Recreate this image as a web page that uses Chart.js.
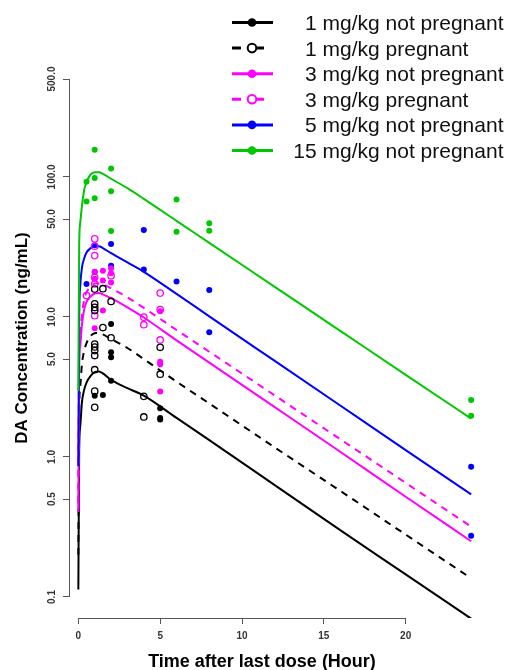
<!DOCTYPE html>
<html><head><meta charset="utf-8">
<script src="https://cdn.jsdelivr.net/npm/chart.js@4.4.1/dist/chart.umd.min.js"></script>
<style>html,body{margin:0;padding:0;background:#fff;overflow:hidden}#wrap{width:507px;height:670px;position:relative}</style>
</head><body><div id="wrap"><canvas id="c" width="507" height="670"></canvas></div>
<script>
// ---------- data ----------
const groupLabels = ['1 mg/kg not pregnant', '1 mg/kg pregnant', '3 mg/kg not pregnant', '3 mg/kg pregnant', '5 mg/kg not pregnant', '15 mg/kg not pregnant'];

// model fit curves (time in hours, concentration ng/mL)
const curveTime    = [0, 0.05, 0.12, 0.22, 0.35, 0.5, 0.75, 1, 1.25, 1.5, 2, 3, 4, 6, 8, 12, 16, 20, 24];
const fit1NotPreg  = [0.113, 1.1, 1.67, 2.46, 3.0, 3.4, 3.8, 4.03, 4.07, 3.95, 3.55, 3.1, 2.74, 1.9, 1.32, 0.63, 0.30, 0.145, 0.07];
const fit1Preg     = [0.2, 2.1, 3.2, 4.6, 5.7, 6.5, 7.3, 7.65, 7.7, 7.5, 6.95, 6.0, 5.0, 3.45, 2.41, 1.17, 0.573, 0.279, 0.136];
const fit3NotPreg  = [0.405, 4.4, 6.3, 8.8, 11.2, 12.8, 14.0, 14.7, 14.8, 14.5, 13.6, 11.7, 9.9, 6.8, 4.72, 2.27, 1.09, 0.52, 0.25];
const fit3Preg     = [0.47, 5.2, 7.4, 10.3, 13.2, 15.0, 16.5, 17.3, 17.4, 17.1, 16.0, 13.8, 11.6, 8.07, 5.64, 2.75, 1.34, 0.653, 0.318];
const fit5NotPreg  = [0.86, 9.6, 17, 22.5, 26, 28.8, 31.0, 32.0, 32.0, 31.0, 28.5, 24.5, 21.0, 14.6, 10.1, 4.85, 2.33, 1.12, 0.54];
const fit15NotPreg = [2.96, 32, 47.5, 62, 80, 92, 104, 108, 108, 105, 97, 83, 69.7, 48.5, 33.8, 16.4, 7.96, 3.86, 1.88];

// observed concentrations
const obs1NotPregTime  = [1, 1.5, 2, 2, 2, 2, 5, 5, 5];
const obs1NotPregConc  = [2.74, 2.77, 8.9, 5.6, 5.15, 3.5, 2.23, 1.9, 1.85];
const obs1PregTime     = [1, 1, 1, 1, 1, 1, 1, 1, 1, 1, 1, 1.5, 1.5, 2, 2, 4, 4, 5, 5];
const obs1PregConc     = [15.8, 12.4, 11.7, 11.1, 6.4, 6.1, 5.75, 5.3, 4.2, 2.95, 2.26, 15.9, 8.4, 12.9, 7.1, 2.71, 1.93, 6.07, 3.9];
const obs3NotPregTime  = [1, 1, 1, 1.5, 1.5, 1.5, 2, 2, 2, 5, 5, 5, 5];
const obs3NotPregConc  = [21.0, 18.7, 8.3, 21.4, 18.2, 11.1, 22.3, 20.5, 17.6, 11.0, 4.79, 4.6, 2.93];
const obs3PregTime     = [0.5, 1, 1, 1, 1, 1, 1, 2, 4, 4, 5, 5, 5];
const obs3PregConc     = [14.2, 36.1, 32.0, 27.4, 19.2, 17.2, 10.2, 19.7, 9.96, 8.8, 14.8, 11.3, 6.85];
const obs5NotPregTime  = [0.5, 1, 1, 2, 2, 4, 4, 6, 8, 8, 24, 24];
const obs5NotPregConc  = [17.2, 32.5, 20.9, 33.2, 23.2, 41.8, 21.8, 17.9, 15.6, 7.78, 0.85, 0.274];
const obs15NotPregTime = [0.5, 0.5, 1, 1, 1, 2, 2, 2, 6, 6, 8, 8, 24, 24];
const obs15NotPregConc = [92.5, 66.6, 156, 98, 70.5, 114.6, 79, 41, 69, 40.6, 46.7, 41.3, 2.55, 1.97];

// axis ticks
const xTickValues = [0, 5, 10, 15, 20];
const yTickValues = [0.1, 0.5, 1, 5, 10, 50, 100, 500];
const yTickLabels = ['0.1', '0.5', '1.0', '5.0', '10.0', '50.0', '100.0', '500.0'];
const xTitle = 'Time after last dose (Hour)';
const yTitle = 'DA Concentration (ng/mL)';

// ---------- styles ----------
const groupColors = ['#000000', '#000000', '#FF00FF', '#FF00FF', '#0000FF', '#00C800'];
const groupOpen   = [false, true, false, true, false, false];
const fits = [fit1NotPreg, fit1Preg, fit3NotPreg, fit3Preg, fit5NotPreg, fit15NotPreg];
const obsT = [obs1NotPregTime, obs1PregTime, obs3NotPregTime, obs3PregTime, obs5NotPregTime, obs15NotPregTime];
const obsC = [obs1NotPregConc, obs1PregConc, obs3NotPregConc, obs3PregConc, obs5NotPregConc, obs15NotPregConc];
const DASH = [7, 6];

const datasets = [];
groupLabels.forEach((lab, i) => {
  datasets.push({
    label: lab + ' (observed)',
    data: obsT[i].map((t, k) => ({x: t, y: obsC[i][k]})),
    showLine: false,
    pointStyle: 'circle',
    pointRadius: groupOpen[i] ? 3.2 : 3,
    pointBorderWidth: groupOpen[i] ? 1.3 : 0,
    pointBackgroundColor: groupOpen[i] ? 'rgba(0,0,0,0)' : groupColors[i],
    pointBorderColor: groupColors[i],
    order: 0
  });
});
groupLabels.forEach((lab, i) => {
  datasets.push({
    label: lab,
    data: curveTime.map((t, k) => ({x: t, y: fits[i][k]})),
    showLine: true,
    borderColor: groupColors[i],
    borderWidth: 2,
    borderDash: groupOpen[i] ? DASH : [],
    pointRadius: 0,
    cubicInterpolationMode: 'monotone',
    fill: false,
    order: 10 - i
  });
});

const FONT = '"Liberation Sans", Arial, sans-serif';

const decor = {
  id: 'decor',
  afterDraw(chart) {
    const ctx = chart.ctx, xs = chart.scales.x, ys = chart.scales.y, ca = chart.chartArea;
    ctx.save();
    // R-style axis lines spanning first to last tick
    ctx.strokeStyle = '#555'; ctx.lineWidth = 1;
    ctx.beginPath();
    const yb = Math.round(ca.bottom) + 0.5;
    ctx.moveTo(xs.getPixelForValue(xTickValues[0]), yb);
    ctx.lineTo(xs.getPixelForValue(xTickValues[xTickValues.length - 1]), yb);
    const xl = Math.round(ca.left) - 0.5;
    ctx.moveTo(xl, ys.getPixelForValue(yTickValues[0]));
    ctx.lineTo(xl, ys.getPixelForValue(yTickValues[yTickValues.length - 1]));
    ctx.stroke();

    // rotated y tick labels
    ctx.fillStyle = '#333';
    ctx.font = 'bold 10px ' + FONT;
    ctx.textAlign = 'center'; ctx.textBaseline = 'middle';
    ys.ticks.forEach(t => {
      const idx = yTickValues.indexOf(t.value);
      if (idx < 0) return;
      const y = ys.getPixelForValue(t.value);
      ctx.save(); ctx.translate(52, y); ctx.rotate(-Math.PI / 2);
      ctx.fillText(yTickLabels[idx], 0, 0);
      ctx.restore();
    });

    // axis titles
    ctx.fillStyle = '#000';
    ctx.font = 'bold 18px ' + FONT;
    ctx.textAlign = 'center'; ctx.textBaseline = 'alphabetic';
    ctx.fillText(xTitle, 262, 667);
    ctx.save(); ctx.translate(27, (ca.top + ca.bottom) / 2); ctx.rotate(-Math.PI / 2);
    ctx.font = 'bold 17px ' + FONT;
    ctx.fillText(yTitle, 0, 0);
    ctx.restore();

    // legend
    ctx.font = '21px ' + FONT;
    ctx.textAlign = 'left'; ctx.textBaseline = 'alphabetic';
    const oneW = ctx.measureText('1').width;
    groupLabels.forEach((lab, i) => {
      const y = 22.5 + 25.6 * i;
      const col = groupColors[i];
      ctx.strokeStyle = col; ctx.fillStyle = col; ctx.lineWidth = 3;
      ctx.beginPath();
      if (groupOpen[i]) {
        ctx.moveTo(232, y); ctx.lineTo(241, y);
        ctx.moveTo(257, y); ctx.lineTo(264, y);
      } else {
        ctx.moveTo(232, y); ctx.lineTo(273, y);
      }
      ctx.stroke();
      ctx.beginPath();
      ctx.arc(252, y, 4.3, 0, Math.PI * 2);
      if (groupOpen[i]) {
        ctx.fillStyle = '#fff'; ctx.fill();
        ctx.lineWidth = 2; ctx.stroke();
      } else {
        ctx.fill();
      }
      const num = lab.split(' ')[0];
      const shift = ctx.measureText(num).width - oneW;
      ctx.fillStyle = '#111';
      ctx.fillText(lab, 305 - shift, y + 7.5);
    });
    ctx.restore();
  }
};

new Chart(document.getElementById('c'), {
  type: 'scatter',
  data: { datasets },
  options: {
    responsive: false,
    animation: false,
    devicePixelRatio: 1,
    events: [],
    layout: { padding: { top: 58, right: 28, left: 0, bottom: 0 } },
    plugins: { legend: { display: false }, tooltip: { enabled: false }, title: { display: false } },
    scales: {
      x: {
        type: 'linear',
        min: -0.51, max: 24.48,
        afterFit: s => { s.height = 52; },
        afterBuildTicks: s => { s.ticks = xTickValues.map(v => ({ value: v })); },
        grid: { drawOnChartArea: false, drawTicks: true, tickLength: 6, color: '#555' },
        border: { display: false },
        ticks: { color: '#333', font: { family: FONT, size: 10, weight: 'bold' }, padding: 6, maxRotation: 0, autoSkip: false,
                 callback: v => String(v) }
      },
      y: {
        type: 'logarithmic',
        min: Math.pow(10, -1.15), max: Math.pow(10, 2.849),
        afterFit: s => { s.width = 70; },
        afterBuildTicks: s => { s.ticks = yTickValues.map(v => ({ value: v })); },
        grid: { drawOnChartArea: false, drawTicks: true, tickLength: 7, color: '#555' },
        border: { display: false },
        ticks: { display: false, autoSkip: false }
      }
    }
  },
  plugins: [decor]
});
</script>
</body></html>
